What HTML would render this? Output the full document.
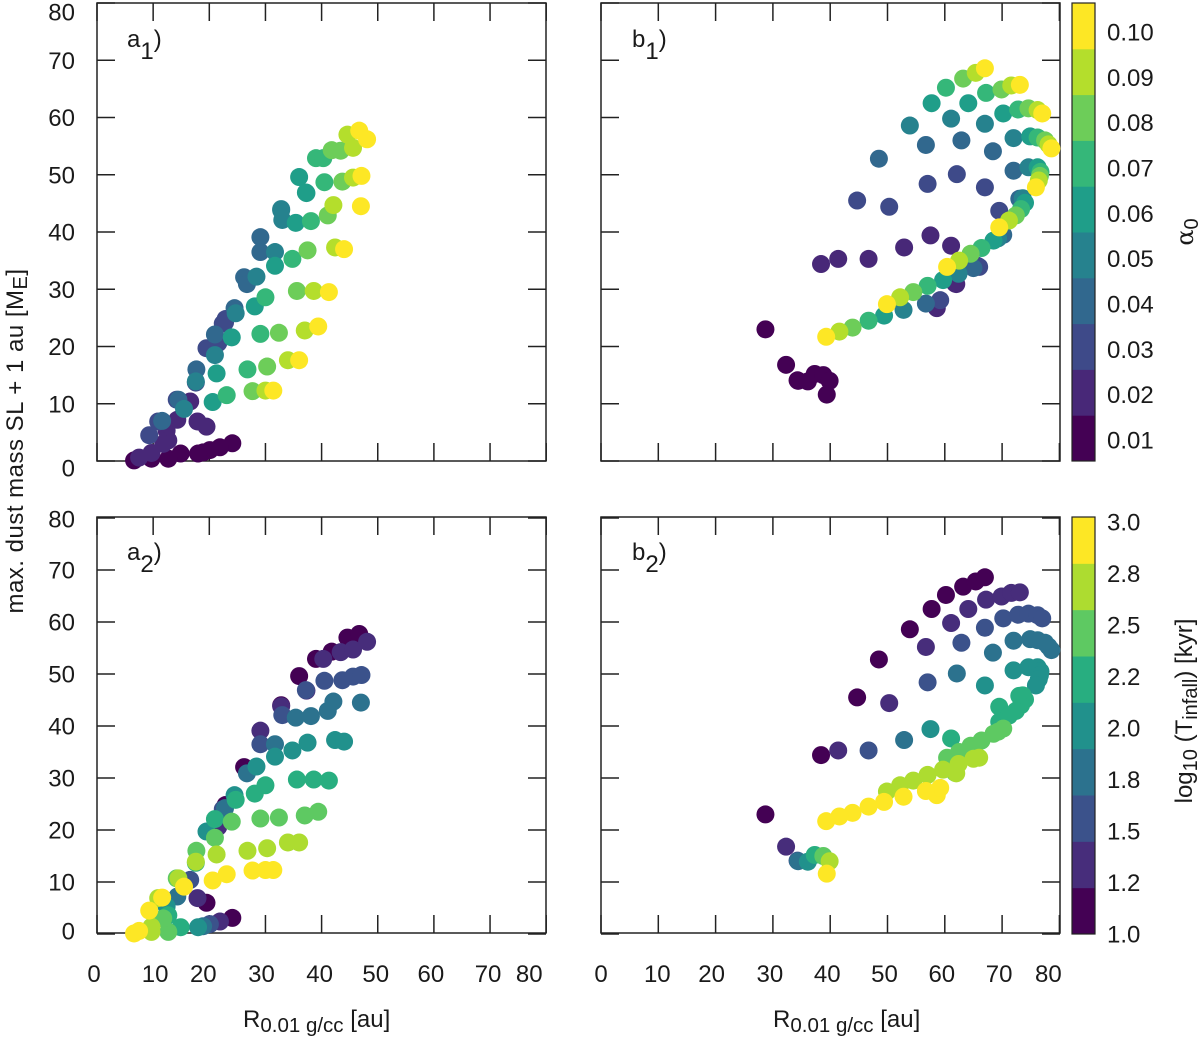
<!DOCTYPE html>
<html lang="en">
<head>
<meta charset="utf-8">
<title>Max dust mass vs R</title>
<style>
html,body{margin:0;padding:0;background:#fff;}
svg{display:block;font-family:"Liberation Sans",sans-serif;fill:#1a1a1a;}
</style>
</head>
<body>
<svg id="chart" xmlns="http://www.w3.org/2000/svg" width="1200" height="1038" viewBox="0 0 1200 1038">
  <g id="marks"></g>
  <g id="static-text" font-size="24">
    <text x="127" y="47">a<tspan dy="12">1</tspan><tspan dy="-12">)</tspan></text>
    <text x="632" y="47">b<tspan dy="12">1</tspan><tspan dy="-12">)</tspan></text>
    <text x="127" y="560">a<tspan dy="12">2</tspan><tspan dy="-12">)</tspan></text>
    <text x="632" y="560">b<tspan dy="12">2</tspan><tspan dy="-12">)</tspan></text>
    <text transform="translate(23,441) rotate(-90)" text-anchor="middle" letter-spacing="0.5">max. dust mass SL + 1 au [M<tspan font-size="20" dy="4">E</tspan><tspan dy="-4">]</tspan></text>
    <text x="243" y="1027">R<tspan font-size="20.5" dy="5">0.01 g/cc</tspan><tspan dy="-5"> [au]</tspan></text>
    <text x="773" y="1027">R<tspan font-size="20.5" dy="5">0.01 g/cc</tspan><tspan dy="-5"> [au]</tspan></text>
    <text transform="translate(1193,232) rotate(-90)" text-anchor="middle"><tspan font-family="'DejaVu Serif',serif">α</tspan><tspan font-size="20" dy="5">0</tspan></text>
    <text transform="translate(1192,711) rotate(-90)" text-anchor="middle">log<tspan font-size="20" dy="5">10</tspan><tspan dy="-5"> (T</tspan><tspan font-size="20" dy="5">infall</tspan><tspan dy="-5">) [kyr]</tspan></text>
  </g>
</svg>
<script>
// Alpha and infall-time parameter grids, with their colour-bar labels.
const alphaLabels = ["0.01","0.02","0.03","0.04","0.05","0.06","0.07","0.08","0.09","0.10"];
const tinfallLabels = ["1.0","1.2","1.5","1.8","2.0","2.2","2.5","2.8","3.0"];
const xTickLabels = [0,10,20,30,40,50,60,70,80];
const yTickLabels = [0,10,20,30,40,50,60,70,80];
const alphaColors = ["#440154","#482878","#3e4a89","#31688e","#26828e","#1f9e89","#35b779","#6dcd59","#b4de2c","#fde725"];
const tinfallColors = ["#440154","#472d7b","#3b528b","#2c728e","#21918c","#28ae80","#5ec962","#addc30","#fde725"];

// Series a: one row per Tinfall, one column per alpha.
const radiusA = [
 [24.1,19.5,22.9,26.2,32.8,36.0,39.0,41.8,44.6,46.7],
 [21.9,17.9,21.6,29.1,32.8,37.3,40.3,43.4,45.6,48.1],
 [20.1,16.6,22.4,29.1,33.0,37.2,40.5,43.7,45.6,47.1],
 [18.9,14.3,22.8,26.7,31.7,35.4,38.1,41.1,42.1,47.0],
 [18.0,12.4,19.5,24.5,28.4,31.7,34.8,37.5,42.4,44.0],
 [14.9,12.7,17.6,21.0,24.7,28.1,30.0,35.6,38.6,41.3],
 [12.7,11.8,14.2,17.7,21.0,24.0,29.1,32.4,37.0,39.4],
 [9.7,9.7,10.9,14.5,17.6,21.3,26.8,30.3,34.0,36.0],
 [6.6,7.5,9.3,11.6,15.5,20.6,23.1,27.7,30.0,31.4]
];
const massA = [
 [3.1,6.0,24.8,32.1,44.0,49.6,52.9,54.3,57.0,57.7],
 [2.4,6.9,20.6,39.1,43.8,46.8,52.9,54.2,54.7,56.2],
 [1.9,10.4,24.0,36.5,42.1,46.9,48.7,48.8,49.5,49.8],
 [1.5,7.2,24.2,30.9,36.5,41.6,41.9,42.9,44.7,44.5],
 [1.3,5.3,19.7,26.7,32.2,34.1,35.3,36.8,37.3,37.0],
 [1.3,3.6,13.7,22.1,25.8,27.0,28.6,29.7,29.7,29.5],
 [0.4,3.0,10.7,16.0,18.5,21.6,22.2,22.4,22.8,23.5],
 [0.4,1.4,6.9,10.7,13.9,15.3,16.0,16.5,17.6,17.6],
 [0.1,0.6,4.5,7.0,9.1,10.3,11.5,12.2,12.3,12.3]
];

// Series b: one row per Tinfall, one column per alpha.
const radiusB = [
 [28.7,38.4,44.7,48.5,53.9,57.7,60.2,63.2,65.4,67.0],
 [32.3,41.4,50.3,56.7,61.1,64.1,67.2,69.9,71.6,73.1],
 [34.3,46.7,57.0,62.9,67.0,70.2,72.8,74.6,76.2,77.0],
 [34.4,52.9,62.1,68.4,72.0,74.9,76.2,77.5,78.1,78.6],
 [36.1,57.5,67.0,72.0,74.6,76.2,76.7,76.6,76.4,75.9],
 [37.3,61.1,69.5,73.0,73.6,74.0,73.3,72.4,71.2,69.5],
 [38.8,61.8,65.7,70.2,69.3,68.5,66.4,64.5,62.5,60.4],
 [39.9,62.0,66.0,65.0,62.4,59.7,57.0,54.5,52.2,49.9],
 [39.4,58.6,59.2,56.7,52.8,49.4,46.7,43.9,41.6,39.3]
];
const massB = [
 [23.0,34.4,45.5,52.8,58.6,62.5,65.2,66.8,67.8,68.6],
 [16.8,35.3,44.4,55.2,59.8,62.5,64.3,64.9,65.6,65.7],
 [14.1,35.3,48.4,56.0,58.9,60.7,61.4,61.6,61.3,60.7],
 [14.0,37.3,50.1,54.1,56.4,56.7,56.5,56.0,55.3,54.6],
 [13.9,39.4,47.8,50.7,51.3,51.3,50.5,49.8,49.0,47.8],
 [15.2,37.6,43.7,45.8,45.9,45.1,44.0,42.9,42.0,40.8],
 [15.0,31.0,34.1,39.5,38.9,38.5,37.2,36.2,35.0,33.9],
 [14.0,30.9,33.9,33.7,32.7,31.6,30.6,29.5,28.6,27.4],
 [11.6,26.7,28.1,27.5,26.4,25.4,24.5,23.3,22.6,21.7]
];

const svgNS = "http://www.w3.org/2000/svg";
const root = document.getElementById("marks");
const INK = "#222";

function make(tag, attrs, parent) {
  const el = document.createElementNS(svgNS, tag);
  for (const k in attrs) el.setAttribute(k, attrs[k]);
  (parent || root).appendChild(el);
  return el;
}

function drawAxes(p, g) {
  const frame = make("rect", {x:p.left, y:p.top, width:p.right-p.left, height:p.bottom-p.top, fill:"none", stroke:INK, "stroke-width":1.5}, g);
  
  
  const tickLen = 18;
  xTickLabels.forEach(function (v, i) {
    const x = p.sx(v);
    const t1 = make("line", {x1:x, x2:x, y1:p.bottom, y2:p.bottom-tickLen, stroke:INK, "stroke-width":1.5}, g);
    
    
    const t2 = make("line", {x1:x, x2:x, y1:p.top, y2:p.top+tickLen, stroke:INK, "stroke-width":1.5}, g);
    
    
    if (p.showX) {
      const lab = make("text", {x:x + p.xNudge[i], y:982, "text-anchor":"middle", "font-size":24}, g);
      lab.textContent = String(v);
      
      
    }
  });
  yTickLabels.forEach(function (v) {
    const y = p.sy(v);
    const t1 = make("line", {x1:p.left, x2:p.left+tickLen, y1:y, y2:y, stroke:INK, "stroke-width":1.5}, g);
    
    
    const t2 = make("line", {x1:p.right, x2:p.right-tickLen, y1:y, y2:y, stroke:INK, "stroke-width":1.5}, g);
    
    
    if (p.showY) {
      let nudge = 0;
      if (v === 80) nudge = p.yNudgeTop;
      if (v === 0) nudge = p.yNudgeBottom;
      const lab = make("text", {x:75, y:y + nudge + 8.5, "text-anchor":"end", "font-size":24}, g);
      lab.textContent = String(v);
      
      
    }
  });
}

function drawPoints(p, g, radius, mass, colorBy) {
  const order = [];
  if (colorBy === "alpha") {
    alphaLabels.forEach(function (_, a) { tinfallLabels.forEach(function (_, t) { order.push([t, a]); }); });
  } else {
    tinfallLabels.forEach(function (_, t) { alphaLabels.forEach(function (_, a) { order.push([t, a]); }); });
  }
  order.forEach(function (o) {
    const t = o[0], a = o[1];
    const fill = colorBy === "alpha" ? alphaColors[a] : tinfallColors[t];
    const c = make("circle", {cx:p.sx(radius[t][a]), cy:p.sy(mass[t][a]), r:9, fill:fill}, g);
    
    
  });
}

function drawColorbar(cfg) {
  const g = make("g", {});
  
  
  const n = cfg.colors.length;
  const h = (cfg.bottom - cfg.top) / n;
  cfg.colors.forEach(function (col, i) {
    const seg = make("rect", {x:1072, y:cfg.bottom - (i+1)*h, width:23, height:h+0.5, fill:col}, g);
    
    
  });
  const border = make("rect", {x:1072, y:cfg.top, width:23, height:cfg.bottom-cfg.top, fill:"none", stroke:INK, "stroke-width":1.2}, g);
  
  
  cfg.labels.forEach(function (txt, i) {
    const yc = cfg.firstLabel + (cfg.lastLabel - cfg.firstLabel) * i / (cfg.labels.length - 1);
    const lab = make("text", {x:1107, y:yc + 8.5, "font-size":24}, g);
    lab.textContent = txt;
    
    
  });
}

const xScaleA = function (v) { return 97 + v * 5.615; };
const xScaleB = function (v) { return 601 + v * 5.73; };
const yScaleTop = function (v) { return 461 - v * 5.725; };
const yScaleBottom = function (v) { return 934 - v * 5.2; };

const panels = [
  {name:"panel-a1", left:97, right:546, top:3, bottom:461, sx:xScaleA, sy:yScaleTop, showX:false, showY:true, yNudgeTop:9, yNudgeBottom:7, radius:radiusA, mass:massA, by:"alpha"},
  {name:"panel-b1", left:601, right:1060, top:3, bottom:461, sx:xScaleB, sy:yScaleTop, showX:false, showY:false, radius:radiusB, mass:massB, by:"alpha"},
  {name:"panel-a2", left:97, right:546, top:517, bottom:933, sx:xScaleA, sy:yScaleBottom, showX:true, showY:true, yNudgeTop:1, yNudgeBottom:-3, xNudge:[-3,2,-6,-4,-2,-2,-3,-2,-17], radius:radiusA, mass:massA, by:"tinfall"},
  {name:"panel-b2", left:601, right:1060, top:517, bottom:933, sx:xScaleB, sy:yScaleBottom, showX:true, showY:false, xNudge:[0,-1,-4,-3,-3,-3,-3,-3,-11], radius:radiusB, mass:massB, by:"tinfall"}
];

panels.forEach(function (p) {
  const g = make("g", {});
  
  
  drawAxes(p, g);
  drawPoints(p, g, p.radius, p.mass, p.by);
});

drawColorbar({name:"alpha-colorbar", top:3, bottom:461, colors:alphaColors, labels:alphaLabels, firstLabel:440, lastLabel:32});
drawColorbar({name:"tinfall-colorbar", top:517, bottom:934, colors:tinfallColors, labels:tinfallLabels, firstLabel:934, lastLabel:522});
</script>
</body>
</html>
